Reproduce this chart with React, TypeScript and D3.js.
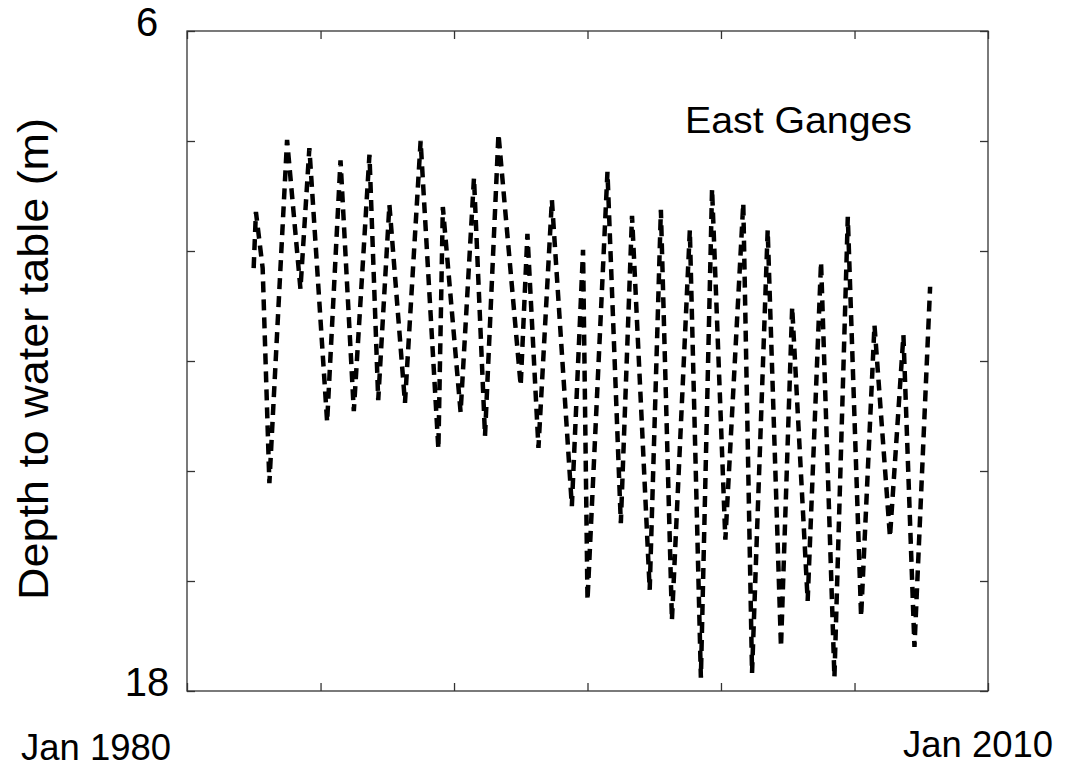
import React, { useEffect, useRef } from "react";
import * as d3 from "d3";

// 観測日 (月単位) と地下水位深度 (m)
const dates = [
  "1982-07", "1982-08", "1982-11", "1983-02", "1983-10", "1984-04", "1984-08",
  "1985-04", "1985-10", "1986-04", "1986-11", "1987-03", "1987-08", "1988-03",
  "1988-10", "1989-06", "1989-08", "1990-04", "1990-10", "1991-03", "1991-09",
  "1992-07", "1992-10", "1993-03", "1993-09", "1994-06", "1994-11", "1995-01",
  "1995-10", "1996-04", "1996-09", "1997-05", "1997-10", "1998-03", "1998-11",
  "1999-04", "1999-09", "2000-03", "2000-11", "2001-03", "2001-10", "2002-04",
  "2002-09", "2003-04", "2003-10", "2004-04", "2004-10", "2005-04", "2005-10",
  "2006-05", "2006-11", "2007-04", "2007-11",
];
const depths = [
  10.31, 9.29, 10.31, 14.22, 7.98, 10.69, 8.13,
  13.11, 8.35, 12.91, 8.25, 12.71, 9.16, 12.76,
  8.0, 13.6, 9.2, 12.93, 8.67, 13.36, 7.87,
  12.45, 9.69, 13.58, 9.07, 14.64, 9.98, 16.35,
  8.56, 14.95, 9.36, 16.16, 9.25, 16.71, 9.62,
  17.76, 8.87, 15.25, 9.13, 17.67, 9.62, 17.2,
  11.02, 16.36, 10.2, 17.75, 9.38, 16.65, 11.35,
  15.2, 11.53, 17.2, 10.65,
];

const yTicks = [6, 8, 10, 12, 14, 16, 18];
const yTickLabels = ["6", "18"];
const xTickYears = [1980, 1985, 1990, 1995, 2000, 2005, 2010];
const xTickLabels = ["Jan 1980", "Jan 2010"];
const seriesName = "East Ganges";
const yTitle = "Depth to water table (m)";

const W = 1065;
const H = 768;
const FONT = "Arial, 'Liberation Sans', sans-serif";

export default function App() {
  const svgRef = useRef<SVGSVGElement | null>(null);

  useEffect(() => {
    const m = { top: 31, right: 77, bottom: 77, left: 187 };
    const iw = W - m.left - m.right;
    const ih = H - m.top - m.bottom;

    const parse = d3.timeParse("%Y-%m");
    const data = dates.map((d, i) => ({ date: parse(d) as Date, depth: depths[i] }));

    const x = d3
      .scaleTime()
      .domain([new Date(1980, 0, 1), new Date(2010, 0, 1)])
      .range([0, iw]);
    const y = d3.scaleLinear().domain([6, 18]).range([0, ih]);

    const svg = d3.select(svgRef.current).attr("width", W).attr("height", H);
    svg.selectAll("*").remove();

    const g = svg.append("g").attr("transform", `translate(${m.left},${m.top})`);

    // 枠
    g.append("rect")
      .attr("width", iw)
      .attr("height", ih)
      .attr("fill", "none")
      .attr("stroke", "#333")
      .attr("stroke-width", 1.3);

    const xt = xTickYears.map((yr) => new Date(yr, 0, 1));
    const styleAxis = (sel: any) => {
      sel.select(".domain").remove();
      sel.selectAll("text").remove();
      sel.selectAll("line").attr("stroke", "#333").attr("stroke-width", 1.3);
    };

    g.append("g")
      .attr("transform", `translate(0,${ih})`)
      .call(d3.axisBottom(x).tickValues(xt).tickSize(-8))
      .call(styleAxis);
    g.append("g")
      .call(d3.axisTop(x).tickValues(xt).tickSize(-8))
      .call(styleAxis);
    g.append("g")
      .call(d3.axisLeft(y).tickValues(yTicks).tickSize(-8))
      .call(styleAxis);
    g.append("g")
      .attr("transform", `translate(${iw},0)`)
      .call(d3.axisRight(y).tickValues(yTicks).tickSize(-8))
      .call(styleAxis);

    // 目盛ラベル (両端のみ)
    g.selectAll("text.ylab")
      .data(yTickLabels)
      .join("text")
      .attr("class", "ylab")
      .attr("x", -40)
      .attr("y", (d) => y(+d) - 9)
      .attr("dy", "0.36em")
      .attr("text-anchor", "middle")
      .attr("font-family", FONT)
      .attr("font-size", 40)
      .text((d) => d);

    const xLabOffset = [-91, -10];
    g.selectAll("text.xlab")
      .data(xTickLabels)
      .join("text")
      .attr("class", "xlab")
      .attr("x", (d, i) => x(xt[i === 0 ? 0 : xt.length - 1]) + xLabOffset[i])
      .attr("y", (d, i) => ih + (i === 0 ? 69 : 66))
      .attr("text-anchor", "middle")
      .attr("font-family", FONT)
      .attr("font-size", 37)
      .attr("textLength", 150)
      .attr("lengthAdjust", "spacingAndGlyphs")
      .text((d) => d);

    // 軸タイトル
    svg
      .append("text")
      .attr("transform", `translate(48,359) rotate(-90)`)
      .attr("text-anchor", "middle")
      .attr("font-family", FONT)
      .attr("font-size", 43)
      .attr("textLength", 482)
      .attr("lengthAdjust", "spacingAndGlyphs")
      .text(yTitle);

    // 系列名
    g.append("text")
      .attr("x", 498)
      .attr("y", 102)
      .attr("font-family", FONT)
      .attr("font-size", 37)
      .attr("textLength", 227)
      .attr("lengthAdjust", "spacingAndGlyphs")
      .text(seriesName);

    // 折れ線 (破線)
    const line = d3
      .line<{ date: Date; depth: number }>()
      .x((d) => x(d.date))
      .y((d) => y(d.depth))
      .curve(d3.curveLinear);

    g.append("path")
      .datum(data)
      .attr("fill", "none")
      .attr("stroke", "#000")
      .attr("stroke-width", 4.5)
      .attr("stroke-dasharray", "11,7")
      .attr("d", line);
  }, []);

  return (
    <div>
      <svg ref={svgRef} style={{ position: "absolute", left: 0, top: 0, background: "#fff" }} />
    </div>
  );
}
